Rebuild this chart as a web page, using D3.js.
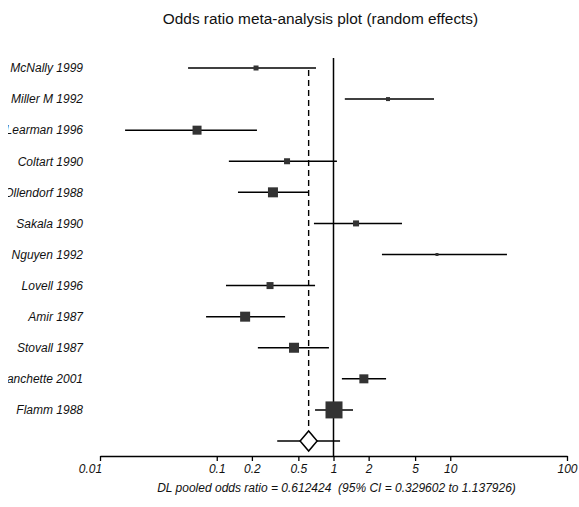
<!DOCTYPE html>
<html>
<head>
<meta charset="utf-8">
<script src="https://cdn.jsdelivr.net/npm/d3@7/dist/d3.min.js"></script>
<style>
  html, body { margin: 0; padding: 0; background: #fff; }
  svg { display: block; }
  text { font-family: "Liberation Sans", Arial, sans-serif; fill: #111; }
</style>
</head>
<body>
<svg id="chart" width="579" height="507"></svg>
<script>
// Study-level odds ratios with 95% confidence limits
const studies = ["McNally 1999", "Miller M 1992", "Learman 1996", "Coltart 1990", "Ollendorf 1988",
  "Sakala 1990", "Nguyen 1992", "Lovell 1996", "Amir 1987", "Stovall 1987", "Blanchette 2001", "Flamm 1988"];
const oddsRatio = [0.217, 2.93, 0.0678, 0.40, 0.303, 1.56, 7.7, 0.286, 0.175, 0.459, 1.82, 1.01];
const ciLower   = [0.0568, 1.25, 0.0164, 0.127, 0.152, 0.68, 2.60, 0.12, 0.081, 0.225, 1.18, 0.695];
const ciUpper   = [0.708, 7.26, 0.221, 1.07, 0.605, 3.86, 30.6, 0.695, 0.385, 0.914, 2.82, 1.47];
const weights   = [25, 16, 81, 36, 100, 36, 9, 49, 100, 100, 81, 289];

// DerSimonian-Laird pooled estimate
const pooledOR = 0.612424;
const pooledLower = 0.329602;
const pooledUpper = 1.137926;

const tickValues = [0.01, 0.1, 0.2, 0.5, 1, 2, 5, 10, 100];
const tickLabels = ["0.01", "0.1", "0.2", "0.5", "1", "2", "5", "10", "100"];

const svg = d3.select("#chart");

const x = d3.scaleLog().domain([0.01, 100]).range([100, 567]);
const rows = studies.concat(["pooled"]);
const y = d3.scalePoint().domain(rows).range([68, 441]);
const side = d3.scaleSqrt().domain([0, d3.max(weights)]).range([0, 17]);
const axisY = 456;

// Title
svg.append("text")
  .attr("x", 320.5).attr("y", 24)
  .attr("text-anchor", "middle")
  .style("font-size", "15.4px")
  .text("Odds ratio meta-analysis plot (random effects)");

// Study labels, clipped at the left edge of the plot area
svg.append("defs").append("clipPath").attr("id", "labelClip")
  .append("rect").attr("x", 8).attr("y", 0).attr("width", 120).attr("height", 507);

svg.append("g").attr("clip-path", "url(#labelClip)")
  .selectAll("text").data(studies).join("text")
  .attr("x", 83)
  .attr("y", d => y(d))
  .attr("dy", "0.36em")
  .attr("text-anchor", "end")
  .style("font-size", "12px")
  .style("font-style", "italic")
  .text(d => d);

// Line of no effect
svg.append("line")
  .attr("x1", x(1)).attr("x2", x(1))
  .attr("y1", 58).attr("y2", axisY)
  .attr("stroke", "#000").attr("stroke-width", 1.5);

// Pooled estimate reference line
svg.append("line")
  .attr("x1", x(pooledOR)).attr("x2", x(pooledOR))
  .attr("y1", y(studies[0]) + 2).attr("y2", y("pooled") - 11)
  .attr("stroke", "#000").attr("stroke-width", 1.4)
  .attr("stroke-dasharray", "6,4");

// Confidence intervals
const idx = d3.range(studies.length);
svg.append("g").selectAll("line").data(idx).join("line")
  .attr("x1", i => x(ciLower[i])).attr("x2", i => x(ciUpper[i]))
  .attr("y1", i => y(studies[i])).attr("y2", i => y(studies[i]))
  .attr("stroke", "#000").attr("stroke-width", 1.5);

// Point estimates, box area proportional to weight
svg.append("g").selectAll("rect").data(idx).join("rect")
  .attr("x", i => x(oddsRatio[i]) - side(weights[i]) / 2)
  .attr("y", i => y(studies[i]) - side(weights[i]) / 2)
  .attr("width", i => side(weights[i]))
  .attr("height", i => side(weights[i]))
  .attr("fill", "#333");

// Pooled estimate: interval and diamond
const py = y("pooled");
svg.append("line")
  .attr("x1", x(pooledLower)).attr("x2", x(pooledUpper))
  .attr("y1", py).attr("y2", py)
  .attr("stroke", "#000").attr("stroke-width", 1.5);
const px = x(pooledOR);
svg.append("path")
  .attr("d", `M${px - 8.5},${py} L${px},${py - 10} L${px + 8.5},${py} L${px},${py + 10} Z`)
  .attr("fill", "#fff").attr("stroke", "#000").attr("stroke-width", 1.5);

// Log axis
const axis = d3.axisBottom(x)
  .tickValues(tickValues)
  .tickFormat((d, i) => tickLabels[i])
  .tickSize(5)
  .tickSizeOuter(0)
  .tickPadding(3);
const gAxis = svg.append("g").attr("transform", `translate(0,${axisY})`).call(axis);
gAxis.select(".domain").attr("stroke", "#000").attr("stroke-width", 1.5);
gAxis.selectAll(".tick line").attr("stroke", "#000").attr("stroke-width", 1.3);
gAxis.selectAll(".tick text")
  .style("font-family", "'Liberation Sans', Arial, sans-serif")
  .style("font-size", "12px")
  .style("font-style", "italic")
  .attr("fill", "#111")
  .attr("dx", d => d === 0.01 ? -10 : 0);

// Pooled summary caption
svg.append("text")
  .attr("x", 336.5).attr("y", 492)
  .attr("text-anchor", "middle")
  .style("font-size", "12px")
  .style("font-style", "italic")
  .attr("xml:space", "preserve")
  .text("DL pooled odds ratio = 0.612424  (95% CI = 0.329602 to 1.137926)");
</script>
</body>
</html>
